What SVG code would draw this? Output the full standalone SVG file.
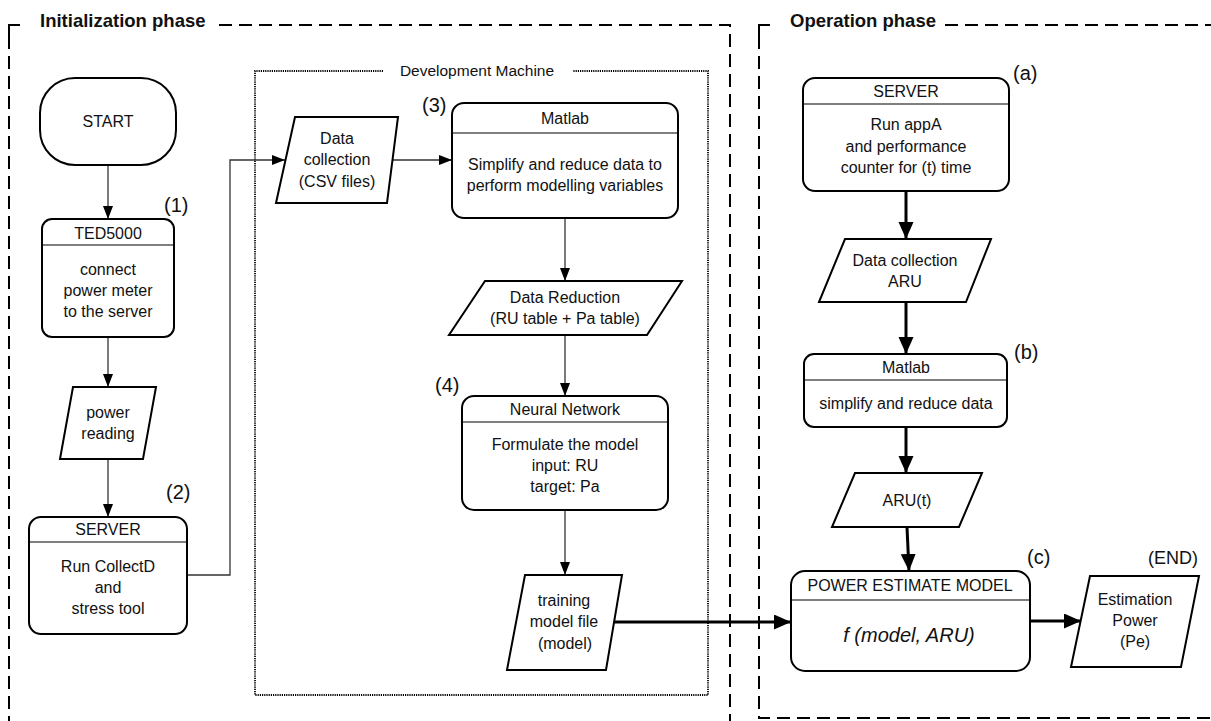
<svg xmlns="http://www.w3.org/2000/svg" width="1211" height="721" viewBox="0 0 1211 721">
<style>
text{font-family:"Liberation Sans",Arial,sans-serif;fill:#111;font-size:16px;text-anchor:middle}
.lbl{font-size:20px;text-anchor:start}
.title{font-size:18.5px;font-weight:bold;text-anchor:start}
.box{fill:#fff;stroke:#000;stroke-width:2}
.div{stroke:#000;stroke-width:1.2}
.frame{fill:none;stroke:#000;stroke-width:2;stroke-dasharray:13 7}
.stub{fill:none;stroke:#000;stroke-width:2}
.dev{fill:none;stroke:#000;stroke-width:1.8;stroke-dasharray:1.2 1}
.thin{fill:none;stroke:#333;stroke-width:1.3;marker-end:url(#a)}
.thick{fill:none;stroke:#000;stroke-width:3;marker-end:url(#b)}
</style>
<defs>
<marker id="a" markerUnits="userSpaceOnUse" markerWidth="14" markerHeight="12" refX="13" refY="5" orient="auto"><path d="M0,0 L13,5 L0,10 z" fill="#000"/></marker>
<marker id="b" markerUnits="userSpaceOnUse" markerWidth="18" markerHeight="16" refX="17" refY="7.5" orient="auto"><path d="M0,0 L17,7.5 L0,15 z" fill="#000"/></marker>
</defs>
<rect width="1211" height="721" fill="#fff"/>

<g id="frames">
<path class="stub" d="M9,36 V25 H20"/>
<path class="frame" d="M9,36 V721"/>
<path class="frame" d="M219,25 H730 V721"/>
<text class="title" x="40" y="27">Initialization phase</text>
<path class="stub" d="M759,36 V25 H770"/>
<path class="frame" d="M759,36 V718 H1211"/>
<path class="frame" d="M945,25 H1211"/>
<text class="title" x="790" y="27">Operation phase</text>
<path class="dev" d="M383,71 H255 V695 H708 V71 H573"/>
<text x="477" y="76" style="font-size:15.5px">Development Machine</text>
</g>

<g id="connectors">
<path class="thin" d="M108,165 V219"/>
<path class="thin" d="M108,337 V387"/>
<path class="thin" d="M108,459 V517"/>
<path class="thin" d="M187,575 H230 V160 H285"/>
<path class="thin" d="M392,160 H452"/>
<path class="thin" d="M565,218 V281"/>
<path class="thin" d="M565,335 V396"/>
<path class="thin" d="M565,510 V575"/>
<path class="thick" d="M614,622 H791"/>
<path class="thick" d="M906,191 V239"/>
<path class="thick" d="M906,302 V354"/>
<path class="thick" d="M906,427 V473"/>
<path class="thick" d="M907,527 L909,571"/>
<path class="thick" d="M1030,621 H1081"/>
</g>

<g id="start">
<rect class="box" x="40" y="78" width="136" height="87" rx="35" ry="35"/>
<text x="108" y="127">START</text>
</g>

<g id="ted5000">
<rect class="box" x="42" y="219" width="132" height="118" rx="10"/>
<line class="div" x1="42" y1="245" x2="174" y2="245"/>
<text x="108" y="239">TED5000</text>
<text x="108" y="275">connect</text>
<text x="108" y="296">power meter</text>
<text x="108" y="317">to the server</text>
<text class="lbl" x="164" y="212">(1)</text>
</g>

<g id="power-reading">
<polygon class="box" points="73,387 156,387 143,459 60,459"/>
<text x="108" y="418">power</text>
<text x="108" y="439">reading</text>
</g>

<g id="server-init">
<rect class="box" x="29" y="517" width="158" height="117" rx="12"/>
<line class="div" x1="29" y1="542" x2="187" y2="542"/>
<text x="108" y="535">SERVER</text>
<text x="108" y="572">Run CollectD</text>
<text x="108" y="593">and</text>
<text x="108" y="614">stress tool</text>
<text class="lbl" x="166" y="499">(2)</text>
</g>

<g id="data-collection-csv">
<polygon class="box" points="295,117 398,117 387,203 276,203"/>
<text x="337" y="144">Data</text>
<text x="337" y="165">collection</text>
<text x="337" y="187">(CSV files)</text>
</g>

<g id="matlab-init">
<rect class="box" x="452" y="103" width="226" height="115" rx="12"/>
<line class="div" x1="452" y1="133" x2="678" y2="133"/>
<text x="565" y="124">Matlab</text>
<text x="565" y="170">Simplify and reduce data to</text>
<text x="565" y="191">perform modelling variables</text>
<text class="lbl" x="422" y="112">(3)</text>
</g>

<g id="data-reduction">
<polygon class="box" points="485,281 682,281 647,335 449,335"/>
<text x="565" y="303">Data Reduction</text>
<text x="565" y="324">(RU table + Pa table)</text>
</g>

<g id="neural-network">
<rect class="box" x="462" y="396" width="206" height="114" rx="12"/>
<line class="div" x1="462" y1="422" x2="668" y2="422"/>
<text x="565" y="415">Neural Network</text>
<text x="565" y="450">Formulate the model</text>
<text x="565" y="471">input: RU</text>
<text x="565" y="492">target: Pa</text>
<text class="lbl" x="435" y="392">(4)</text>
</g>

<g id="training-model">
<polygon class="box" points="525,575 622,575 606,670 507,670"/>
<text x="564" y="606">training</text>
<text x="564" y="627">model file</text>
<text x="565" y="649">(model)</text>
</g>

<g id="server-op">
<rect class="box" x="803" y="78" width="206" height="113" rx="12"/>
<line class="div" x1="803" y1="104" x2="1009" y2="104"/>
<text x="906" y="97">SERVER</text>
<text x="906" y="130">Run appA</text>
<text x="906" y="152">and performance</text>
<text x="906" y="173">counter for (t) time</text>
<text class="lbl" x="1013" y="80">(a)</text>
</g>

<g id="data-collection-aru">
<polygon class="box" points="845,239 991,239 966,302 819,302"/>
<text x="905" y="266">Data collection</text>
<text x="905" y="287">ARU</text>
</g>

<g id="matlab-op">
<rect class="box" x="804" y="354" width="203" height="73" rx="10"/>
<line class="div" x1="804" y1="380" x2="1007" y2="380"/>
<text x="906" y="373">Matlab</text>
<text x="906" y="409">simplify and reduce data</text>
<text class="lbl" x="1014" y="359">(b)</text>
</g>

<g id="aru-t">
<polygon class="box" points="855,473 982,473 959,527 832,527"/>
<text x="907" y="506">ARU(t)</text>
</g>

<g id="power-estimate-model">
<rect class="box" x="791" y="571" width="239" height="100" rx="14"/>
<line class="div" x1="791" y1="600" x2="1030" y2="600"/>
<text x="910" y="591">POWER ESTIMATE MODEL</text>
<text x="909" y="642" style="font-size:20px;font-style:italic">f (model, ARU)</text>
<text class="lbl" x="1027" y="564">(c)</text>
</g>

<g id="estimation-power">
<polygon class="box" points="1090,576 1199,576 1181,667 1071,667"/>
<text x="1135" y="605">Estimation</text>
<text x="1135" y="626">Power</text>
<text x="1135" y="647">(Pe)</text>
<text class="lbl" x="1148" y="564" style="font-size:18px">(END)</text>
</g>
</svg>
